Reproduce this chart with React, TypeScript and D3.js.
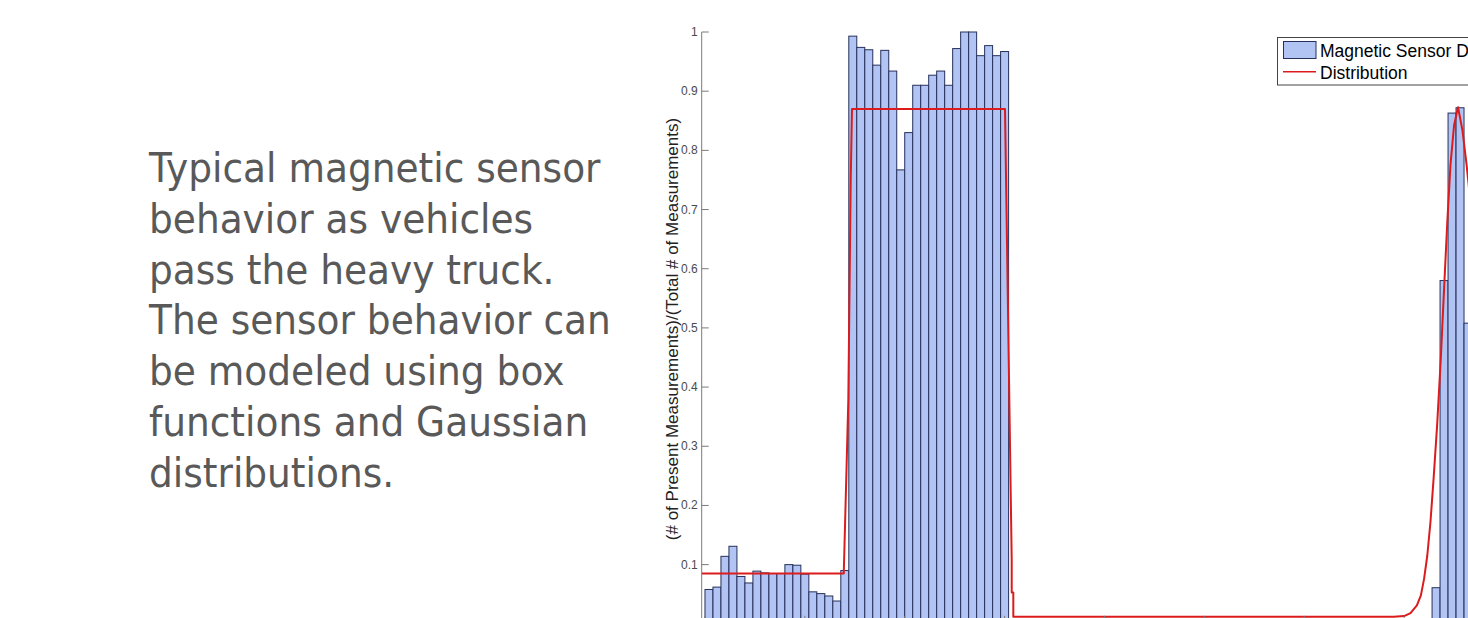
import React from "react";
import * as d3 from "d3";

const W = 1468;
const H = 618;

// Explanatory caption shown to the left of the histogram
const CAPTION_LINES = [
  "Typical magnetic sensor",
  "behavior as vehicles",
  "pass the heavy truck.",
  "The sensor behavior can",
  "be modeled using box",
  "functions and Gaussian",
  "distributions.",
];

const Y_TICKS = [0.1, 0.2, 0.3, 0.4, 0.5, 0.6, 0.7, 0.8, 0.9, 1];
const Y_TICK_LABELS = ["0.1", "0.2", "0.3", "0.4", "0.5", "0.6", "0.7", "0.8", "0.9", "1"];
const X_TICKS = [0, 12.5, 25, 37.5, 50, 62.5, 75, 87.5, 100];

const Y_LABEL = "(# of Present Measurements)/(Total # of Measurements)";
const LEGEND_BARS = "Magnetic Sensor Data";
const LEGEND_LINE = "Distribution";

// Normalised detection counts, bins 0..37 (approaching vehicles + truck body)
const EARLY_BINS = [
  0.058, 0.062, 0.114, 0.131, 0.08, 0.069, 0.089, 0.086, 0.085, 0.085,
  0.1, 0.099, 0.084, 0.054, 0.051, 0.047, 0.0385, 0.09,
  0.993, 0.974, 0.97, 0.944, 0.969, 0.934, 0.767, 0.83, 0.91, 0.91,
  0.927, 0.934, 0.91, 0.972, 1.0, 1.0, 0.96, 0.977, 0.96, 0.967,
];

// Trailing cluster of detections starting at bin 91
const LATE_BIN_START = 91;
const LATE_BINS = [0.061, 0.58, 0.863, 0.872, 0.508];

// Fitted model: box functions followed by a Gaussian bump
const DIST_X = [
  -0.41, 17.37, 17.94, 18.24, 18.4, 37.55, 37.76, 38.39, 38.39, 38.59, 38.59,
  86.2, 87.5, 88.3, 89.1, 89.6, 90.0, 90.4, 90.8, 91.2, 91.65, 92.1, 92.5,
  92.9, 93.3, 93.75, 94.25, 94.8, 95.3, 95.75, 96.3,
];
const DIST_Y = [
  0.085, 0.085, 0.378, 0.75, 0.87, 0.87, 0.68, 0.107, 0.053, 0.053, 0.012,
  0.012, 0.013, 0.018, 0.031, 0.048, 0.076, 0.115, 0.172, 0.247, 0.339, 0.45, 0.565,
  0.677, 0.775, 0.842, 0.873, 0.834, 0.778, 0.72, 0.66,
];

const BAR_FILL = "#b2c4f4";
const BAR_EDGE = "#26305a";
const LINE_RED = "#dc1c1c";
const AXIS = "#7a7a7a";

export default function App() {
  const axisLeft = 701.7;
  const axisTop = 32;
  const axisBottom = 623.8;

  const x = d3.scaleLinear().domain([-0.41, 100]).range([axisLeft, axisLeft + 100.41 * 7.99]);
  const y = d3.scaleLinear().domain([0, 1]).range([axisBottom, axisTop]);

  const bars: { bin: number; v: number }[] = [
    ...EARLY_BINS.map((v, i) => ({ bin: i, v })),
    ...LATE_BINS.map((v, i) => ({ bin: LATE_BIN_START + i, v })),
  ];

  const line = d3
    .line<number>()
    .x((_, i) => x(DIST_X[i]))
    .y((d) => y(d));

  const captionX = 149;
  const captionY0 = 182;
  const captionStep = 50.8;

  return (
    <svg
      width={W}
      height={H}
      style={{ position: "absolute", left: 0, top: 0, background: "#fff" }}
    >
      <rect x={0} y={0} width={W} height={H} fill="#fff" />

      {/* caption */}
      <g fill="#595959" fontFamily="'DejaVu Sans', Verdana, sans-serif" fontSize={41}>
        {CAPTION_LINES.map((t, i) => (
          <text key={i} transform={`translate(${captionX},${captionY0 + i * captionStep}) scale(0.915,1)`}>
            {t}
          </text>
        ))}
      </g>

      {/* histogram bars */}
      <g>
        {bars.map((b) => (
          <rect
            key={b.bin}
            x={x(b.bin)}
            y={y(b.v)}
            width={x(b.bin + 1) - x(b.bin)}
            height={y(0) - y(b.v)}
            fill={BAR_FILL}
            stroke={BAR_EDGE}
            strokeWidth={1}
          />
        ))}
      </g>

      {/* fitted distribution */}
      <path d={line(DIST_Y) || ""} fill="none" stroke={LINE_RED} strokeWidth={2} strokeLinejoin="round" />

      {/* y axis */}
      <g fontFamily="'Liberation Sans', Arial, sans-serif" fontSize={12} fill="#4a4a4a">
        <line x1={axisLeft} x2={axisLeft} y1={axisTop} y2={axisBottom} stroke={AXIS} strokeWidth={1} />
        <line x1={axisLeft} x2={axisLeft + 7} y1={y(0)} y2={y(0)} stroke={AXIS} strokeWidth={1} />
        {Y_TICKS.map((t, i) => (
          <g key={i}>
            <line x1={axisLeft} x2={axisLeft + 7} y1={y(t)} y2={y(t)} stroke={AXIS} strokeWidth={1} />
            <text x={axisLeft - 4} y={y(t) + 4} textAnchor="end">
              {Y_TICK_LABELS[i]}
            </text>
          </g>
        ))}
      </g>

      {/* x axis (sits at the lower edge) */}
      <g>
        <line x1={axisLeft} x2={x(100)} y1={axisBottom} y2={axisBottom} stroke={AXIS} strokeWidth={1} />
        {X_TICKS.map((t, i) => (
          <line key={i} x1={x(t)} x2={x(t)} y1={axisBottom} y2={axisBottom - 8} stroke={AXIS} strokeWidth={1} />
        ))}
      </g>

      {/* y axis title */}
      <text
        transform={`translate(677.5,329) rotate(-90)`}
        textAnchor="middle"
        fontFamily="'Liberation Sans', Arial, sans-serif"
        fontSize={17}
        fill="#222"
      >
        {Y_LABEL}
      </text>

      {/* legend */}
      <g fontFamily="'Liberation Sans', Arial, sans-serif" fontSize={17.5} fill="#000">
        <rect x={1277.5} y={37.5} width={230} height={47.5} fill="#fff" stroke="#444" strokeWidth={1} />
        <rect x={1283.5} y={41.5} width={32.5} height={17} fill={BAR_FILL} stroke={BAR_EDGE} strokeWidth={1} />
        <text x={1320} y={56.5}>{LEGEND_BARS}</text>
        <line x1={1283} x2={1316} y1={71.7} y2={71.7} stroke={LINE_RED} strokeWidth={1.5} />
        <text x={1320} y={79}>{LEGEND_LINE}</text>
      </g>
    </svg>
  );
}
